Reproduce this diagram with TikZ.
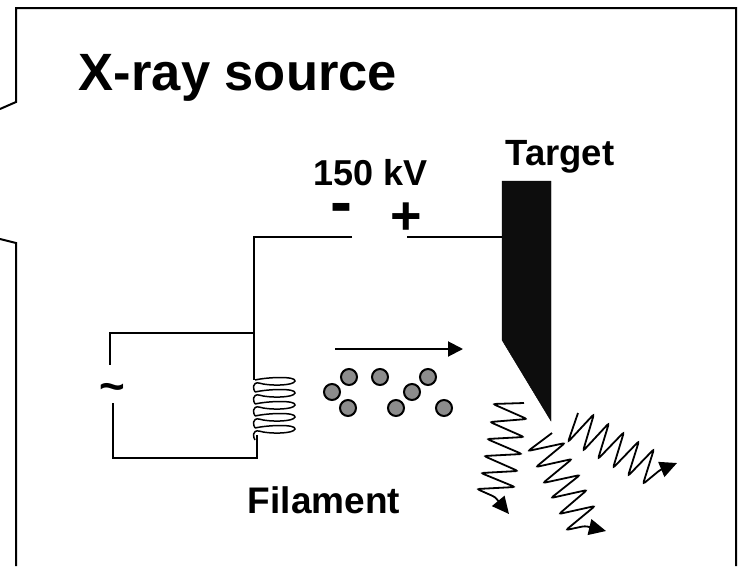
\documentclass[tikz,border=0pt]{standalone}
\usepackage{fontspec}
\setmainfont{Liberation Sans}
\usetikzlibrary{arrows.meta}

\tikzset{
  wire/.style={draw=black, line width=2pt},
  electron/.style={circle, draw=black, fill=black!45, line width=2pt, minimum size=16pt, inner sep=0pt},
  textlabel/.style={inner sep=0pt, text=black, anchor=base},
  photon/.style={draw=black, line width=1.8pt, rounded corners=2.5pt, -{Triangle[length=17pt,width=16pt]}}
}

\begin{document}
\begin{tikzpicture}[x=1pt,y=-1pt]
\useasboundingbox (0,0) rectangle (740,566);

% Frame
\draw [line width=2pt] (0,109) -- (16,102) -- (16,8) -- (736,8) -- (736,566);
\draw [line width=2pt] (16,566) -- (16,243) -- (0,239);

% Labels
\node [textlabel,font=\bfseries\fontsize{52.5}{52.5}\selectfont] (title) at (238,90) {X-ray source};
\node [textlabel,font=\bfseries\fontsize{36}{36}\selectfont] (voltage) at (371,185) {150 kV};
\node [textlabel,font=\bfseries\fontsize{36.5}{36.5}\selectfont] (target) at (560,165) {Target};
\node [textlabel,font=\bfseries\fontsize{37}{37}\selectfont] (filament) at (324,513) {Filament};
\node [textlabel,font=\bfseries\fontsize{66}{66}\selectfont] (minus) at (341,224) {-};
\node [textlabel,font=\bfseries\fontsize{54}{54}\selectfont] (plus) at (406,234) {+};
\node [textlabel,font=\bfseries\fontsize{44}{44}\selectfont] (tilde) at (112,401) {\textasciitilde};

% Target
\filldraw [fill=black!95, draw=black] (502,181) -- (551,181) -- (551,421) -- (502,340) -- cycle;
\coordinate (targetin) at (502,237);

% Circuit
\coordinate (neg) at (352,237);
\coordinate (pos) at (407,237);
\coordinate (top) at (254,237);
\coordinate (junction) at (254,333);
\coordinate (coiltop) at (254,380);
\coordinate (coilbot) at (257,435);
\coordinate (corner) at (257,458);
\draw [wire] (neg) -- (top) -- (coiltop);
\draw [wire] (pos) -- (targetin);
\draw [wire] (junction) -- (110,333) -- (110,365);
\draw [wire] (113,403) -- (113,458) -- (corner) -- (coilbot);

% Filament coil
\foreach \i in {0,...,4}
  \draw [line width=1.5pt] (255,{380+\i*12}) .. controls (268,{377+\i*12}) and (296,{376+\i*12}) .. (295,{381+\i*12}) .. controls (294,{386+\i*12}) and (268,{386+\i*12}) .. (259,{383+\i*12}) .. controls (252,{382+\i*12}) and (253,{389+\i*12}) .. (255,{392+\i*12});

% Electrons
\foreach \x/\y [count=\n] in {349/377, 380/377, 428/377, 332/392, 412/392, 348/408, 396/408, 444/408}
  \node [electron] (e\n) at (\x,\y) {};
\coordinate (beamstart) at (335,349);
\coordinate (beamend) at (463,349);
\draw [wire, -{Triangle[length=15pt,width=15pt]}] (beamstart) -- (beamend);

% X-rays
\draw [photon] (524,403) -- (493,404) -- (527,419) -- (490,422) -- (524,437) -- (487,439) -- (522,454) -- (484,456) -- (518,471) -- (481,473) -- (515,487) -- (477,489) -- (495,497) -- (509,514);
\draw [photon] (552,433) -- (528,451) -- (565,443) -- (536,467) -- (572,459) -- (543,483) -- (580,475) -- (551,498) -- (587,490) -- (559,514) -- (595,506) -- (566,530) -- (585,526) -- (606,531);
\draw [photon] (578,413) -- (568,442) -- (594,414) -- (583,451) -- (609,423) -- (598,459) -- (624,432) -- (613,468) -- (639,441) -- (628,476) -- (654,449) -- (643,484) -- (660,470) -- (677,463);
\end{tikzpicture}
\end{document}
